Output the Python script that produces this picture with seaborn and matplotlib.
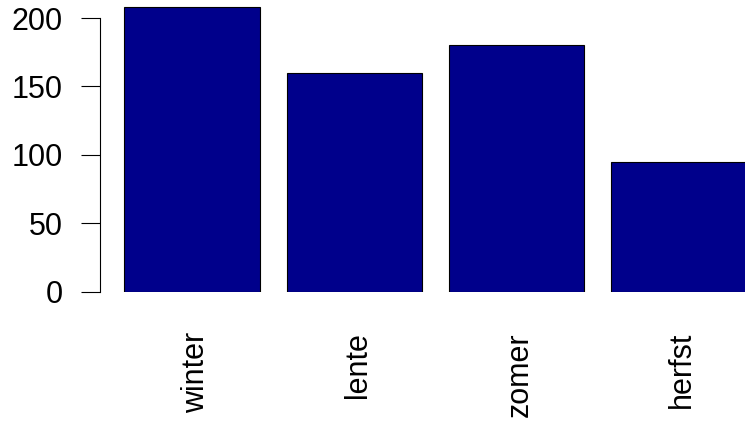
import matplotlib
matplotlib.use("Agg")
import matplotlib.pyplot as plt
import matplotlib.transforms as mtransforms
import seaborn as sns
import pandas as pd

seasons = ["winter", "lente", "zomer", "herfst"]
counts = [208, 160, 180, 95]
y_ticks = [0, 50, 100, 150, 200]

sns.set_style("white")
plt.rcParams['font.family'] = ['Liberation Sans', 'DejaVu Sans']
plt.rcParams['text.color'] = 'black'
plt.rcParams['xtick.color'] = 'black'
plt.rcParams['ytick.color'] = 'black'

df = pd.DataFrame({"season": seasons, "count": counts})

fig = plt.figure(figsize=(7.45, 4.23), dpi=100)
# axes placed in pixel terms to mimic R's base barplot margins
ax = fig.add_axes([100 / 745, 1 - 291.7 / 423, 645 / 745, 291.7 / 423])

sns.barplot(data=df, x="season", y="count", color="darkblue", saturation=1,
            width=1 / 1.2, edgecolor="black", linewidth=0.8, ax=ax)

ax.set_xlim(-92 / 162, 553 / 162)
ax.set_ylim(0, 291.7 / 1.368)

for side in ["top", "right", "bottom"]:
    ax.spines[side].set_visible(False)
ax.spines["left"].set_bounds(0, 200)
ax.spines["left"].set_linewidth(0.8)
ax.spines["left"].set_color("black")

ax.set_yticks(y_ticks)
ax.set_yticklabels([str(v) for v in y_ticks])
ax.tick_params(axis="y", left=True, length=13.7, width=0.8, color="black",
               labelcolor="black", pad=13, labelsize=22)
ax.set_xticks(range(len(seasons)))
ax.set_xticklabels(seasons, rotation=90, ha="center", va="top")
ax.tick_params(axis="x", bottom=False, length=0, pad=29, labelsize=22,
               labelcolor="black")

# R puts rotated labels a touch right of the bar centre
shift = mtransforms.ScaledTranslation(4 / 100, 0, fig.dpi_scale_trans)
for lbl in ax.get_xticklabels():
    lbl.set_transform(lbl.get_transform() + shift)

ax.set_xlabel("")
ax.set_ylabel("")
ax.grid(False)

fig.savefig("out.png", dpi=100)
